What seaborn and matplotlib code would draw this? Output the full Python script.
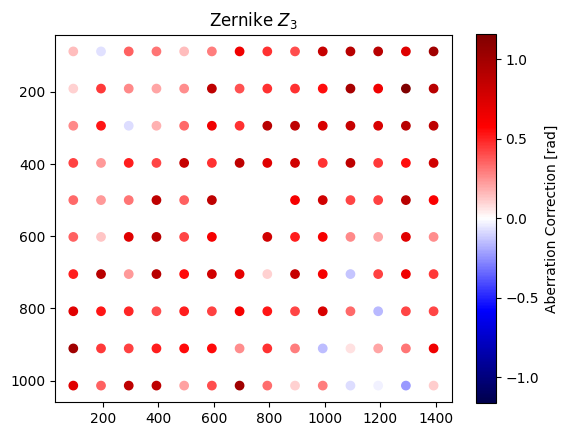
import numpy as np
import pandas as pd
import matplotlib
matplotlib.use("Agg")
import matplotlib.pyplot as plt
import seaborn as sns

x_positions = [93, 193, 293, 393, 493, 593, 693, 793, 893, 993, 1093, 1193, 1293, 1393]
y_positions = [88, 191, 294, 397, 500, 602, 705, 808, 911, 1014]

# rows follow y_positions, columns follow x_positions; None = no measurement
values = [
    [0.15, -0.07, 0.36, 0.31, 0.15, 0.29, 0.65, 0.47, 0.40, 0.84, 0.90, 0.90, 0.73, 1.01],
    [0.10, 0.45, 0.27, 0.20, 0.26, 0.87, 0.39, 0.47, 0.47, 0.55, 0.97, 0.65, 1.16, 0.90],
    [0.27, 0.53, -0.08, 0.18, 0.34, 0.65, 0.47, 0.90, 0.87, 0.76, 0.84, 0.76, 0.90, 0.87],
    [0.43, 0.23, 0.51, 0.42, 0.84, 0.47, 0.87, 0.72, 0.79, 0.47, 0.87, 0.45, 0.55, 0.79],
    [0.34, 0.23, 0.31, 0.87, 0.36, 0.87, None, None, 0.62, 0.79, 0.42, 0.43, 0.90, 0.60],
    [0.36, 0.13, 0.72, 0.90, 0.42, 0.62, None, 0.79, 0.51, 0.62, 0.27, 0.20, 0.72, 0.26],
    [0.51, 0.90, 0.23, 0.90, 0.56, 0.79, 0.69, 0.10, 0.84, 0.62, -0.13, 0.43, 0.65, 0.45],
    [0.72, 0.53, 0.49, 0.40, 0.51, 0.43, 0.62, 0.53, 0.42, 0.76, 0.34, -0.16, 0.42, 0.42],
    [1.01, 0.45, 0.43, 0.51, 0.56, 0.56, 0.26, 0.47, 0.29, -0.15, 0.07, 0.20, 0.31, 0.65],
    [0.72, 0.36, 0.87, 0.87, 0.21, 0.40, 1.01, 0.33, 0.10, 0.29, -0.08, -0.035, -0.23, 0.11],
]

rows = []
for yi, yv in enumerate(y_positions):
    for xi, xv in enumerate(x_positions):
        v = values[yi][xi]
        if v is not None:
            rows.append({"x": xv, "y": yv, "val": v})
df = pd.DataFrame(rows)

vmax = 1.16
fig = plt.figure(figsize=(5.67, 4.37), dpi=100)
ax = fig.add_axes([0.0975, 0.0794, 0.699, 0.8412])
cax = fig.add_axes([0.8395, 0.0785, 0.0347, 0.8437])

sns.scatterplot(data=df, x="x", y="y", hue="val", palette="seismic",
                hue_norm=(-vmax, vmax), s=36, edgecolor="face", linewidth=1,
                legend=False, ax=ax)
ax.invert_yaxis()
ax.set_xlabel("")
ax.set_ylabel("")
ax.set_title("Zernike $Z_3$")

sm = plt.cm.ScalarMappable(cmap="seismic", norm=plt.Normalize(-vmax, vmax))
cb = fig.colorbar(sm, cax=cax)
cb.set_label("Aberration Correction [rad]")

fig.savefig("out.png", dpi=100)
